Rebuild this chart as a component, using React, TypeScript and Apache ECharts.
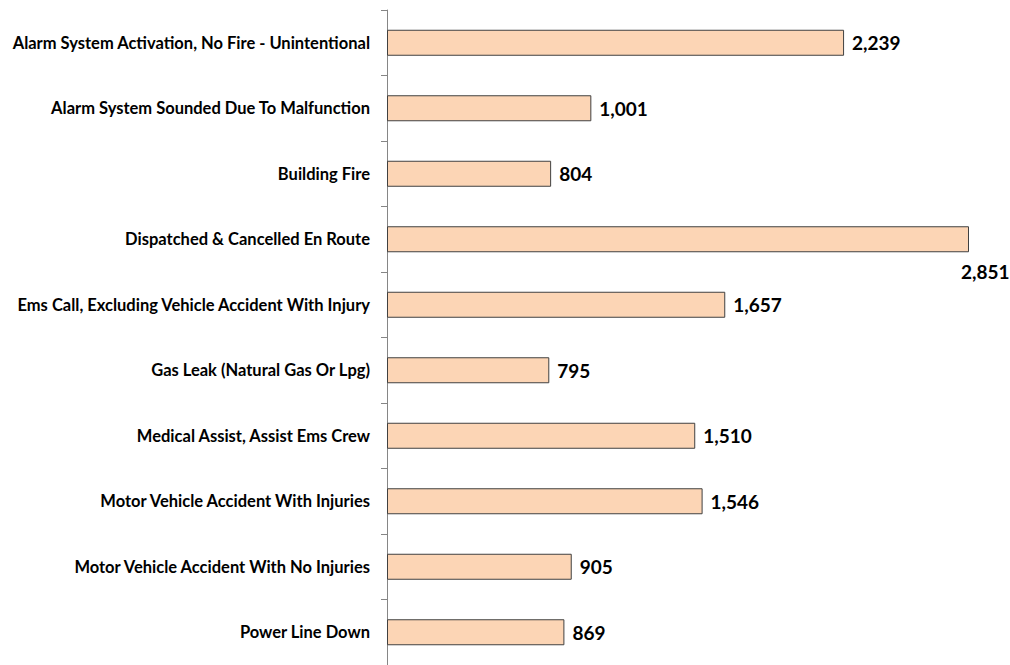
import React, { useEffect, useRef } from "react";
import * as echarts from "echarts";

const categories = [
  "Alarm System Activation, No Fire - Unintentional",
  "Alarm System Sounded Due To Malfunction",
  "Building Fire",
  "Dispatched & Cancelled En Route",
  "Ems Call, Excluding Vehicle Accident With Injury",
  "Gas Leak (Natural Gas Or Lpg)",
  "Medical Assist, Assist Ems Crew",
  "Motor Vehicle Accident With Injuries",
  "Motor Vehicle Accident With No Injuries",
  "Power Line Down",
];
const values = [2239, 1001, 804, 2851, 1657, 795, 1510, 1546, 905, 869];

export default function App() {
  const ref = useRef<HTMLDivElement>(null);
  useEffect(() => {
    const chart = echarts.init(ref.current!, null, { renderer: "svg" });
    const maxVal = Math.max(...values);
    chart.setOption({
      animation: false,
      grid: { left: 387, top: 10, width: 582, height: 660, containLabel: false },
      xAxis: {
        type: "value",
        min: 0,
        max: maxVal,
        show: false,
      },
      yAxis: {
        type: "category",
        inverse: true,
        data: categories,
        axisLine: { show: true, lineStyle: { color: "#868686", width: 1 } },
        axisTick: { show: true, length: 6, lineStyle: { color: "#868686" } },
        axisLabel: {
          margin: 17,
          color: "#000",
          fontFamily: "Lato",
          fontWeight: "bold",
          fontSize: 16.5,
        },
      },
      series: [
        {
          type: "bar",
          barWidth: 26,
          data: values.map((v) =>
            v === maxVal
              ? { value: v, label: { position: "right", offset: [-16, 32] } }
              : v
          ),
          itemStyle: { color: "#FCD5B5", borderColor: "#404040", borderWidth: 1 },
          label: {
            show: true,
            position: "right",
            distance: 8,
            color: "#000",
            fontFamily: "Lato",
            fontWeight: "bold",
            fontSize: 19,
            formatter: (p: any) => p.value.toLocaleString("en-US"),
          },
        },
      ],
    });
    return () => chart.dispose();
  }, []);
  return (
    <div
      ref={ref}
      style={{ position: "absolute", left: 0, top: 0, width: 1010, height: 665 }}
    />
  );
}
